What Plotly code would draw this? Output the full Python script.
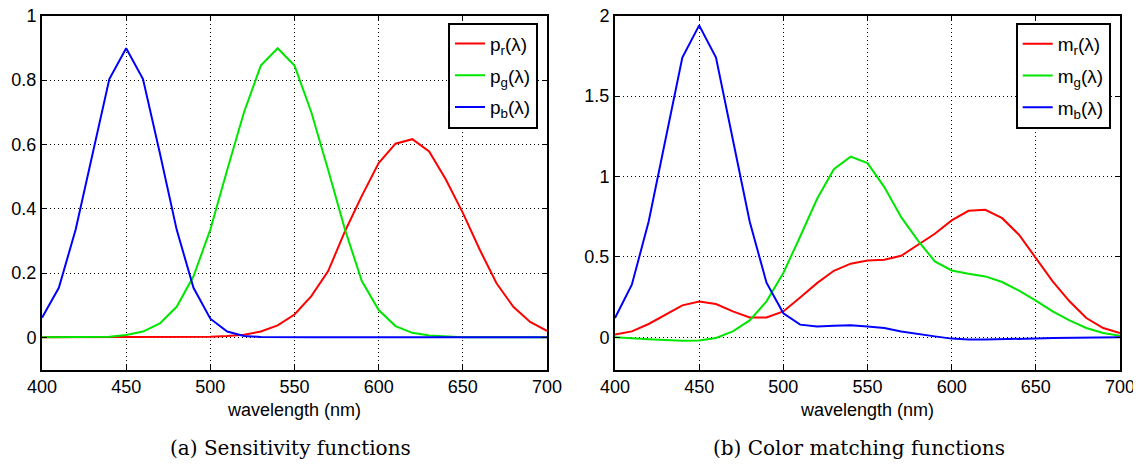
import plotly.graph_objects as go

wavelength = list(range(400, 701, 10))

# (a) Sensitivity functions
p_r = [0, 0, 0, 0, 0, 0, 0, 0, 0, 0.001, 0.002, 0.004, 0.008, 0.018, 0.037, 0.071,
       0.128, 0.206, 0.33, 0.44, 0.542, 0.602, 0.616, 0.578, 0.49, 0.387, 0.273,
       0.168, 0.095, 0.048, 0.02]
p_g = [0, 0, 0, 0, 0.002, 0.007, 0.018, 0.043, 0.095, 0.19, 0.335, 0.52, 0.70,
       0.845, 0.899, 0.845, 0.70, 0.52, 0.335, 0.175, 0.085, 0.035, 0.014, 0.006,
       0.002, 0, 0, 0, 0, 0, 0]
p_b = [0.061, 0.154, 0.335, 0.573, 0.803, 0.899, 0.803, 0.573, 0.335, 0.154, 0.058,
       0.018, 0.004, 0.001, 0, 0, 0, 0, 0, 0, 0, 0, 0, 0, 0, 0, 0, 0, 0, 0, 0]

# (b) Color matching functions
m_r = [0.017, 0.037, 0.083, 0.14, 0.199, 0.222, 0.207, 0.161, 0.124, 0.124, 0.161,
       0.248, 0.337, 0.414, 0.458, 0.478, 0.482, 0.507, 0.576, 0.644, 0.727, 0.787,
       0.793, 0.741, 0.638, 0.493, 0.348, 0.224, 0.12, 0.058, 0.027]
m_g = [0.0, -0.008, -0.012, -0.017, -0.021, -0.019, -0.004, 0.037, 0.105, 0.224, 0.40,
       0.627, 0.86, 1.045, 1.124, 1.083, 0.934, 0.747, 0.602, 0.472, 0.416, 0.395,
       0.379, 0.344, 0.29, 0.228, 0.161, 0.106, 0.058, 0.027, 0.01]
m_b = [0.12, 0.327, 0.72, 1.23, 1.74, 1.94, 1.74, 1.23, 0.72, 0.34, 0.15, 0.079, 0.068,
       0.072, 0.075, 0.068, 0.058, 0.037, 0.02, 0.006, -0.008, -0.014, -0.014, -0.013,
       -0.01, -0.007, -0.004, -0.002, 0, 0, 0]

x_ticks = [400, 450, 500, 550, 600, 650, 700]
y_ticks_a = [0, 0.2, 0.4, 0.6, 0.8, 1]
y_ticks_b = [0, 0.5, 1, 1.5, 2]

names_a = ["p<sub>r</sub>(λ)", "p<sub>g</sub>(λ)", "p<sub>b</sub>(λ)"]
names_b = ["m<sub>r</sub>(λ)", "m<sub>g</sub>(λ)", "m<sub>b</sub>(λ)"]
colors = ["#ff0000", "#00e600", "#0000ff"]
caption_a = "(a) Sensitivity functions"
caption_b = "(b) Color matching functions"

# page has an 8px body margin; figure sized to fit the 1141x468 window
OFF = 8
W, H = 1141 - OFF, 468 - OFF


def px(x):
    return (x - OFF) / W


def py(y):
    return 1 - (y - OFF) / H


fig = go.Figure()

for ys, nm, c in zip([p_r, p_g, p_b], names_a, colors):
    fig.add_trace(go.Scatter(x=wavelength, y=ys, mode="lines", name=nm,
                             line=dict(color=c, width=2), xaxis="x", yaxis="y",
                             legend="legend", legendgroup=nm))
for ys, nm, c in zip([m_r, m_g, m_b], names_b, colors):
    fig.add_trace(go.Scatter(x=wavelength, y=ys, mode="lines", name=nm,
                             line=dict(color=c, width=2), xaxis="x2", yaxis="y2",
                             legend="legend2", legendgroup=nm))

font = "Liberation Sans, Arial, sans-serif"
ax_common = dict(showline=True, linecolor="black", linewidth=2, mirror="ticks",
                 ticks="inside", ticklen=5, tickcolor="black", tickwidth=1,
                 showgrid=True, gridcolor="black", griddash="1px,3px", gridwidth=1,
                 zeroline=False, automargin=False, ticklabeloverflow="allow",
                 tickfont=dict(family=font, size=18, color="black"))

title_font = dict(family=font, size=18, color="black")
yb = py(369.5)
yt = py(15.7)
fig.update_layout(
    width=W, height=H, margin=dict(l=0, r=0, t=0, b=0, autoexpand=False),
    paper_bgcolor="white", plot_bgcolor="white",
    xaxis=dict(domain=[px(42), px(547)], range=[400, 700], tickvals=x_ticks, anchor="y",
               title=dict(text="wavelength (nm)", font=title_font, standoff=7),
               **ax_common),
    yaxis=dict(domain=[yb, yt], range=[-0.1, 1], tickvals=y_ticks_a, anchor="x", **ax_common),
    xaxis2=dict(domain=[px(615), px(1120)], range=[400, 700], tickvals=x_ticks, anchor="y2",
                title=dict(text="wavelength (nm)", font=title_font, standoff=7),
                **ax_common),
    yaxis2=dict(domain=[yb, yt], range=[-0.2, 2], tickvals=y_ticks_b, anchor="x2", **ax_common),
    legend=dict(x=px(538), y=py(22.7), xanchor="right", yanchor="top",
                bgcolor="white", bordercolor="black", borderwidth=2,
                font=dict(family=font, size=19, color="black"), tracegroupgap=4),
    legend2=dict(x=px(1110.7), y=py(23), xanchor="right", yanchor="top",
                 bgcolor="white", bordercolor="black", borderwidth=2,
                 font=dict(family=font, size=19, color="black"), tracegroupgap=4),
    showlegend=True,
)

cap_font = dict(family="DejaVu Serif, Liberation Serif, serif", size=20, color="black")
fig.add_annotation(text=caption_a, x=px(290), y=py(448), xref="paper", yref="paper",
                   showarrow=False, xanchor="center", yanchor="middle", font=cap_font)
fig.add_annotation(text=caption_b, x=px(859), y=py(448), xref="paper", yref="paper",
                   showarrow=False, xanchor="center", yanchor="middle", font=cap_font)

fig.write_html("out.html")
